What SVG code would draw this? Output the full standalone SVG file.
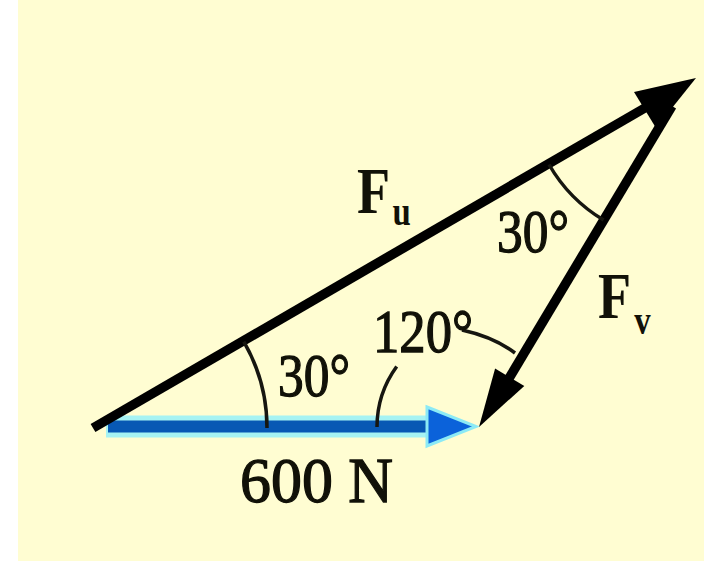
<svg xmlns="http://www.w3.org/2000/svg" width="704" height="561" viewBox="0 0 704 561">
<style>
.lbl{font-family:"Liberation Serif","Times New Roman",serif;fill:#111108;}
.num{stroke:#111108;stroke-width:1.3;}
.ang{fill:none;stroke:#161610;stroke-width:3.5;}
.vec{stroke:#000;stroke-width:9.5;stroke-linecap:butt;}
.head{fill:#000;}
.sub{font-size:40px;}
</style>
<rect width="704" height="561" fill="#ffffff"/>
<rect x="18" y="0" width="686" height="561" fill="#FFFDD2"/>

<g id="force-600N">
  <line x1="106" y1="426.5" x2="440" y2="426.5" stroke="#A6F3F3" stroke-width="22"/>
  <line x1="108" y1="426.5" x2="432" y2="426.5" stroke="#0858B4" stroke-width="12"/>
  <polygon points="427,407 476,426.5 427,446" fill="#0B62DA" stroke="#8CEAF5" stroke-width="3"/>
</g>

<g id="vector-Fu">
  <line class="vec" x1="93" y1="428" x2="650" y2="105"/>
  <polygon class="head" points="696,78 656,128 634,92"/>
</g>

<g id="vector-Fv">
  <line class="vec" x1="672" y1="106" x2="508" y2="380"/>
  <polygon class="head" points="479,427 524.3,385.9 495.1,368.5"/>
</g>

<g id="angle-marks">
  <path class="ang" d="M 243.8 341.7 A 172 172 0 0 1 267 428"/>
  <path class="ang" d="M 549 164.5 A 155 155 0 0 0 603.6 220.1"/>
  <path class="ang" d="M 377 427 A 103 103 0 0 1 396.7 366.5"/>
  <path class="ang" d="M 462 330 Q 494 337 515 353"/>
</g>

<g id="labels">
  <text class="lbl" transform="translate(357,213) scale(0.82,1)" font-size="66" font-weight="bold">F<tspan class="sub" dx="3" dy="12">u</tspan></text>
  <text class="lbl" transform="translate(598,318) scale(0.82,1)" font-size="66" font-weight="bold">F<tspan class="sub" dx="4" dy="16">v</tspan></text>
  <text class="lbl num" x="497" y="252" font-size="62" textLength="72" lengthAdjust="spacingAndGlyphs">30°</text>
  <text class="lbl num" x="278" y="396" font-size="62" textLength="72" lengthAdjust="spacingAndGlyphs">30°</text>
  <text class="lbl num" x="373" y="352" font-size="62" textLength="100" lengthAdjust="spacingAndGlyphs">120°</text>
  <text class="lbl num" x="240" y="502" font-size="64" textLength="153" lengthAdjust="spacingAndGlyphs">600 N</text>
</g>
</svg>
